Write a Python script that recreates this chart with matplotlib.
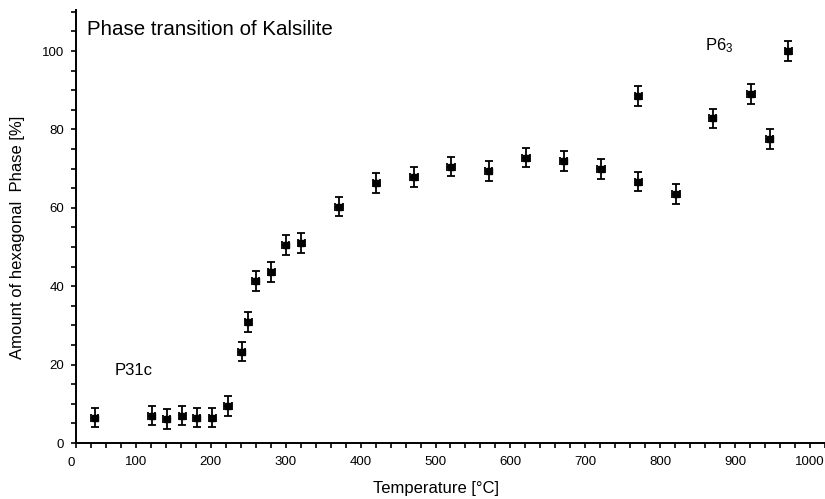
import matplotlib.pyplot as plt
from matplotlib.ticker import MultipleLocator

# ==============================
# Global matplotlib styling
# ==============================

plt.rcParams.update({
    "font.family": ["Liberation Sans", "DejaVu Sans"],
    "mathtext.fontset": "custom",
    "mathtext.rm": "Liberation Sans",
    "mathtext.it": "Liberation Sans:italic",
    "font.size": 12,
    "xtick.labelsize": 9.5,
    "ytick.labelsize": 9.5,
})

# ==============================
# Data
# ==============================

temperature = [45, 121, 141, 162, 181, 202, 223, 241, 250, 260, 281, 300,
               321, 371, 421, 471, 521, 571, 621, 671, 721, 771, 771, 821,
               870, 921, 946, 971]
hexagonal = [6.5, 7.0, 6.1, 7.0, 6.5, 6.5, 9.4, 23.3, 30.9, 41.3, 43.7, 50.5,
             51.1, 60.3, 66.4, 67.9, 70.5, 69.4, 72.8, 71.9, 69.9, 66.7, 88.5,
             63.5, 82.8, 89.0, 77.6, 100.0]
hex_err = [2.5] * len(hexagonal)
temp_err = [5] * len(temperature)

x_major = [100, 200, 300, 400, 500, 600, 700, 800, 900, 1000]

# ==============================
# Plotting
# ==============================

fig = plt.figure(figsize=(8.25, 4.99), dpi=100)
ax = fig.add_axes([0.0921, 0.1122, 0.9079, 0.868])

ax.errorbar(temperature, hexagonal, yerr=hex_err, xerr=temp_err,
            fmt="s", color="black", markersize=4.8, elinewidth=1.3,
            capsize=3.2, capthick=1.3)

ax.set_xlim(20, 1020)
ax.set_ylim(0, 110.5)

ax.set_xticks(x_major)
ax.xaxis.set_minor_locator(MultipleLocator(20))
ax.yaxis.set_major_locator(MultipleLocator(20))
ax.yaxis.set_minor_locator(MultipleLocator(5))
ax.tick_params(axis="both", which="both", direction="out", length=3.5,
               width=1.2, color="black")
ax.tick_params(axis="x", pad=6)
ax.tick_params(axis="y", pad=5)

# the "0" label sits left of the first tick in the original
ax.text(13, -5.2, "0", ha="center", va="center", fontsize=9.5, clip_on=False)

for side in ["top", "right"]:
    ax.spines[side].set_visible(False)
for side in ["left", "bottom"]:
    ax.spines[side].set_linewidth(1.4)

ax.set_xlabel("Temperature [\u00b0C]")
ax.set_ylabel("Amount of hexagonal  Phase [%]")
ax.xaxis.set_label_coords(0.481, -0.088)
ax.yaxis.set_label_coords(-0.068, 0.4746)

ax.text(0.0147, 0.954, "Phase transition of Kalsilite", transform=ax.transAxes,
        fontsize=14.8, ha="left", va="center")
ax.text(72, 18.4, "P31c", fontsize=12, ha="left", va="center")
ax.text(860, 101.5, "P6$_3$", fontsize=12, ha="left", va="center")

fig.savefig("out.png", dpi=100)
